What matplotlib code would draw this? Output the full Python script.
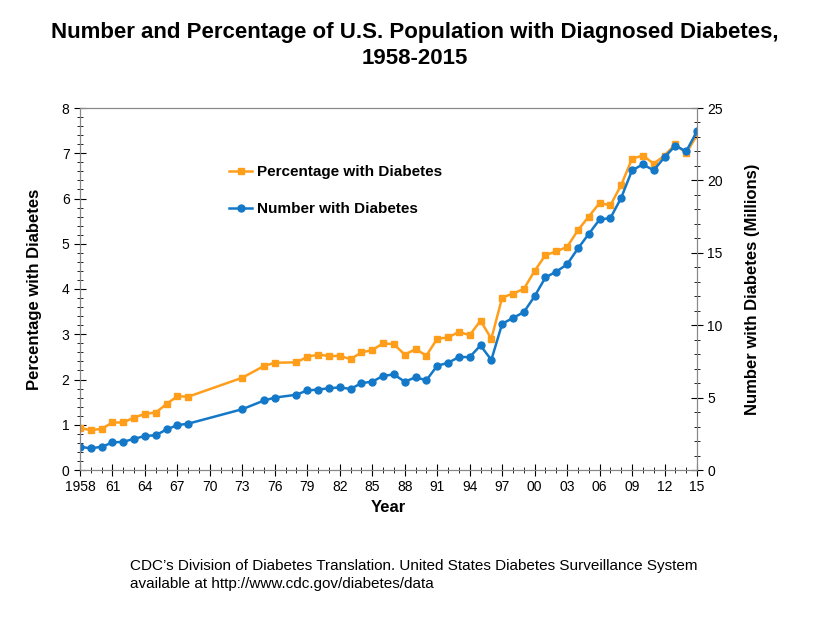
import matplotlib
matplotlib.use("Agg")
import matplotlib.pyplot as plt
from matplotlib.ticker import MultipleLocator

plt.rcParams['font.family'] = ['Liberation Sans', 'DejaVu Sans']

years = [1958,1959,1960,1961,1962,1963,1964,1965,1966,1967,1968,1973,1975,1976,1978,1979,1980,1981,1982,1983,1984,1985,1986,1987,1988,1989,1990,1991,1992,1993,1994,1995,1996,1997,1998,1999,2000,2001,2002,2003,2004,2005,2006,2007,2008,2009,2010,2011,2012,2013,2014,2015]
pct = [0.93,0.88,0.91,1.05,1.05,1.16,1.24,1.27,1.46,1.63,1.62,2.04,2.3,2.37,2.38,2.5,2.55,2.52,2.52,2.45,2.6,2.65,2.8,2.78,2.55,2.67,2.53,2.9,2.93,3.05,2.98,3.3,2.9,3.81,3.9,4.0,4.4,4.75,4.83,4.93,5.3,5.6,5.9,5.85,6.3,6.88,6.95,6.77,6.95,7.2,7.0,7.4]
num = [1.6,1.5,1.6,1.9,1.95,2.15,2.35,2.4,2.8,3.1,3.2,4.2,4.8,5.0,5.2,5.5,5.55,5.65,5.7,5.6,6.0,6.1,6.5,6.6,6.1,6.4,6.2,7.2,7.4,7.8,7.8,8.6,7.6,10.1,10.5,10.9,12.0,13.3,13.7,14.2,15.3,16.3,17.3,17.4,18.8,20.7,21.1,20.7,21.6,22.4,22.0,23.4]
tick_years = list(range(1958, 2016, 3))
tick_labels = ['1958'] + [f"{y % 100:02d}" for y in tick_years[1:]]

fig = plt.figure(figsize=(8.3, 6.38), dpi=100)
ax = fig.add_axes([80/830, 1-470/638, 617/830, 362/638])
ax2 = ax.twinx()
orange = '#FF9E1B'
blue = '#1478C8'
l1, = ax.plot(years, pct, color=orange, marker='s', ms=4, lw=1.8, label='Percentage with Diabetes')
l2, = ax2.plot(years, num, color=blue, marker='o', ms=5, lw=1.8, label='Number with Diabetes')
ax.set_xlim(1958, 2015)
ax.set_ylim(0, 8)
ax2.set_ylim(0, 25)
ax.set_xticks(tick_years)
ax.set_xticklabels(tick_labels, fontsize=10)
ax.xaxis.set_minor_locator(MultipleLocator(1))
ax.yaxis.set_minor_locator(MultipleLocator(0.2))
ax2.yaxis.set_minor_locator(MultipleLocator(1))
for a in (ax, ax2):
    a.tick_params(which='both', direction='inout', labelsize=10)
    a.tick_params(which='major', length=8)
    a.tick_params(which='minor', length=5)
    for s in a.spines.values():
        s.set_color('#888888')
ax.set_yticks(range(0, 9))
ax2.set_yticks(range(0, 26, 5))
ax.set_xlabel('Year', fontsize=12, fontweight='bold')
ax.set_ylabel('Percentage with Diabetes', fontsize=12, fontweight='bold', labelpad=14)
ax2.set_ylabel('Number with Diabetes (Millions)', fontsize=12, fontweight='bold', labelpad=16)
ax.legend(handles=[l1, l2], loc='upper left', bbox_to_anchor=(0.22, 0.88), frameon=False,
          prop={'size': 11, 'weight': 'bold'}, labelspacing=1.5, handlelength=1.5, handletextpad=0.3)
fig.text(0.5, 0.965, 'Number and Percentage of U.S. Population with Diagnosed Diabetes,\n1958-2015',
         ha='center', va='top', fontsize=16, fontweight='bold', linespacing=1.3)
fig.text(130/830, 1-575/638, "CDC’s Division of Diabetes Translation. United States Diabetes Surveillance System\navailable at http://www.cdc.gov/diabetes/data",
         ha='left', va='center', fontsize=11, linespacing=1.4)
fig.savefig('out.png', dpi=100)
